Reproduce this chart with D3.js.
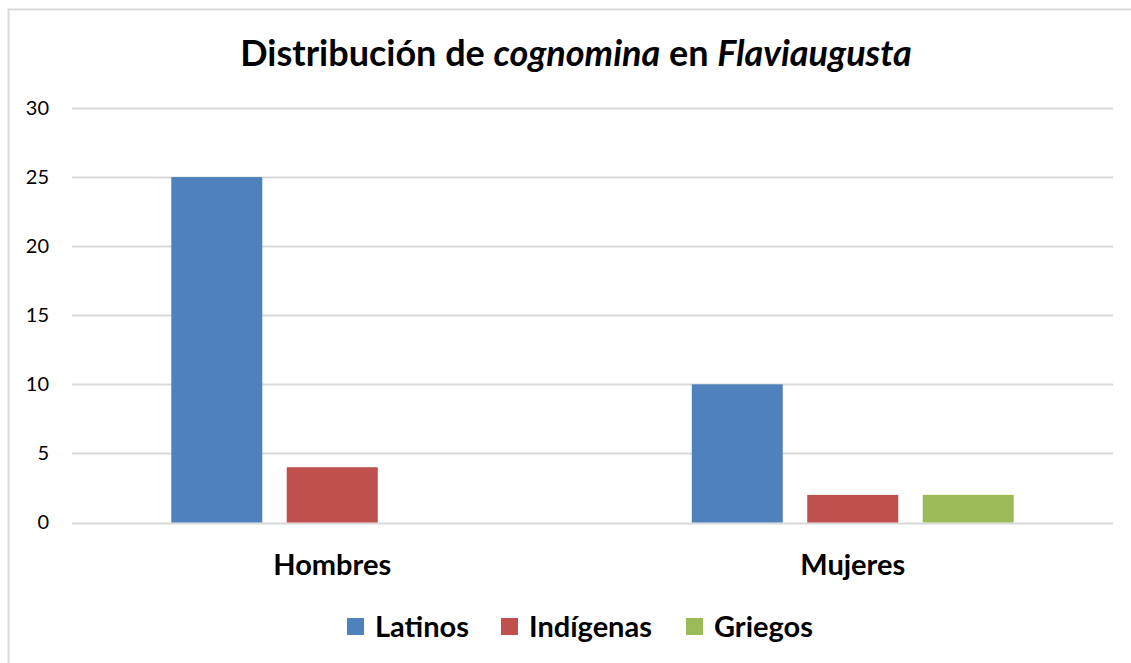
<!DOCTYPE html>
<html><head><meta charset="utf-8">
<script src="https://cdn.jsdelivr.net/npm/d3@7"></script>
<style>body{margin:0;background:#fff}svg{display:block}text{font-family:Lato,"Open Sans",sans-serif}</style>
</head><body>
<svg id="c" width="1131" height="663"></svg>
<script>
const categories = ["Hombres", "Mujeres"];
const seriesNames = ["Latinos", "Indígenas", "Griegos"];
const latinos = [25, 10];
const indigenas = [4, 2];
const griegos = [0, 2];
const yTicks = [0, 5, 10, 15, 20, 25, 30];
const colors = ["#4F81BD", "#C0504D", "#9BBB59"];

const seriesValues = [latinos, indigenas, griegos];
const svg = d3.select("#c");
const W = 1131, H = 663;
const m = {left: 72, right: 18, top: 108, bottom: 140.5};

svg.append("rect").attr("x", 8.5).attr("y", 9.5).attr("width", 1200).attr("height", 700)
  .attr("fill", "#fff").attr("stroke", "#D9D9D9").attr("stroke-width", 2);

const x0 = d3.scaleBand().domain(categories).range([m.left, W - m.right]);
const x1 = d3.scaleBand().domain(seriesNames).range([0, x0.bandwidth()]).paddingInner(0.212).paddingOuter(0.86);
const y = d3.scaleLinear().domain([0, 30]).range([H - m.bottom, m.top]);

// gridlines
svg.append("g").selectAll("line").data(yTicks).join("line")
  .attr("x1", m.left).attr("x2", W - m.right)
  .attr("y1", d => Math.round(y(d)) + 0.5).attr("y2", d => Math.round(y(d)) + 0.5)
  .attr("stroke", "#D9D9D9").attr("stroke-width", 2);

// y axis labels
const yAxis = d3.axisLeft(y).tickValues(yTicks).tickSize(0).tickPadding(0);
const gy = svg.append("g").attr("transform", `translate(49,0)`).call(yAxis);
gy.select(".domain").remove();
gy.selectAll("text").attr("font-size", 20).attr("fill", "#000").style("font-family", "Lato");

// bars
const groups = svg.append("g").selectAll("g").data(categories).join("g")
  .attr("transform", d => `translate(${x0(d)},0)`);
groups.selectAll("rect").data((c, ci) => seriesNames.map((s, si) => ({s, si, v: seriesValues[si][ci]})))
  .join("rect")
  .attr("x", d => x1(d.s)).attr("width", x1.bandwidth())
  .attr("y", d => y(d.v)).attr("height", d => y(0) - y(d.v))
  .attr("fill", d => colors[d.si]);

// x axis labels
const xAxis = d3.axisBottom(x0).tickSize(0).tickPadding(0);
const gx = svg.append("g").attr("transform", `translate(0,${y(0) + 52})`).call(xAxis);
gx.select(".domain").remove();
gx.selectAll("text").attr("font-size", 29).attr("font-weight", "bold").attr("fill", "#000")
  .attr("dy", 0).style("font-family", "Lato");

// title
const t = svg.append("text").attr("x", 576).attr("y", 66).attr("text-anchor", "middle")
  .attr("font-size", 36).attr("font-weight", "bold").attr("fill", "#000");
t.append("tspan").text("Distribución de ");
t.append("tspan").attr("font-style", "italic").text("cognomina");
t.append("tspan").text(" en ");
t.append("tspan").attr("font-style", "italic").text("Flaviaugusta");

// legend
const legendX = [347, 501, 686];
const lg = svg.append("g").selectAll("g").data(seriesNames).join("g")
  .attr("transform", (d, i) => `translate(${legendX[i]},618)`);
lg.append("rect").attr("width", 17).attr("height", 17).attr("fill", (d, i) => colors[i]);
lg.append("text").attr("x", 28).attr("y", 19).attr("font-size", 29).attr("font-weight", "bold")
  .attr("fill", "#000").text(d => d);
</script>
</body></html>
